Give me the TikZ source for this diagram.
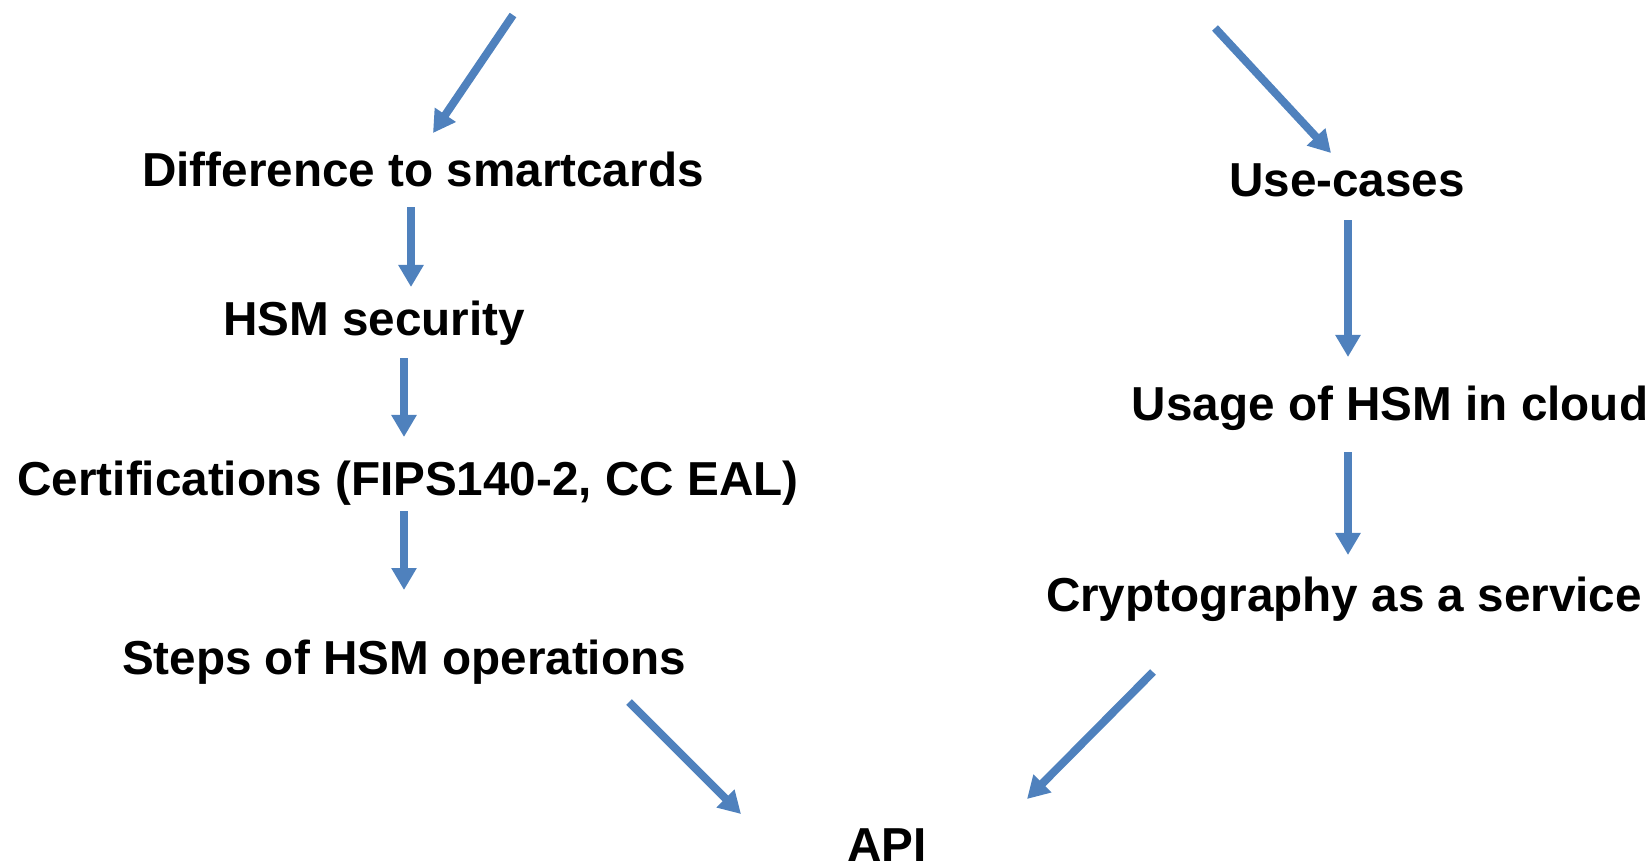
\documentclass[tikz,border=0pt]{standalone}
\usepackage{fontspec}
\setmainfont{Liberation Sans}
\usetikzlibrary{arrows.meta}
\definecolor{arrblue}{RGB}{79,129,189}
\tikzset{
  topic/.style={anchor=base, inner sep=0pt, font=\bfseries\fontsize{13.55pt}{16pt}\selectfont},
  arr/.style={draw=arrblue, line width=0.08cm, -{Triangle[width=0.24cm,length=0.22cm]}, arrblue}
}
\begin{document}
\begin{tikzpicture}[x=.01cm,y=-.01cm]
\useasboundingbox (0,0) rectangle (1651,863);

  \node[topic] (diff) at (423,186) {Difference to smartcards};
  \node[topic] (sec) at (374,335) {HSM security};
  \node[topic] (cert) at (408,495) {Certifications (FIPS140-2, CC EAL)};
  \node[topic] (steps) at (404,674) {Steps of HSM operations};
  \node[topic] (api) at (887,861) {API};
  \node[topic] (use) at (1347,196) {Use-cases};
  \node[topic] (cloud) at (1390,420) {Usage of HSM in cloud};
  \node[topic] (caas) at (1344,611) {Cryptography as a service};

  % arrow ends
  \coordinate (a1) at (513,15);   \coordinate (b1) at (433,133);
  \coordinate (a2) at (411,207);  \coordinate (b2) at (411,287);
  \coordinate (a3) at (404,358);  \coordinate (b3) at (404,437);
  \coordinate (a4) at (404,511);  \coordinate (b4) at (404,590);
  \coordinate (a5) at (629,702);  \coordinate (b5) at (741,814);
  \coordinate (a6) at (1215,28);  \coordinate (b6) at (1331,153);
  \coordinate (a7) at (1348,220); \coordinate (b7) at (1348,357);
  \coordinate (a8) at (1348,452); \coordinate (b8) at (1348,555);
  \coordinate (a9) at (1153,672); \coordinate (b9) at (1027,799);

  \draw[arr] (a1) -- (b1);
  \draw[arr] (a2) -- (b2);
  \draw[arr] (a3) -- (b3);
  \draw[arr] (a4) -- (b4);
  \draw[arr] (a5) -- (b5);
  \draw[arr] (a6) -- (b6);
  \draw[arr] (a7) -- (b7);
  \draw[arr] (a8) -- (b8);
  \draw[arr] (a9) -- (b9);
\end{tikzpicture}
\end{document}
